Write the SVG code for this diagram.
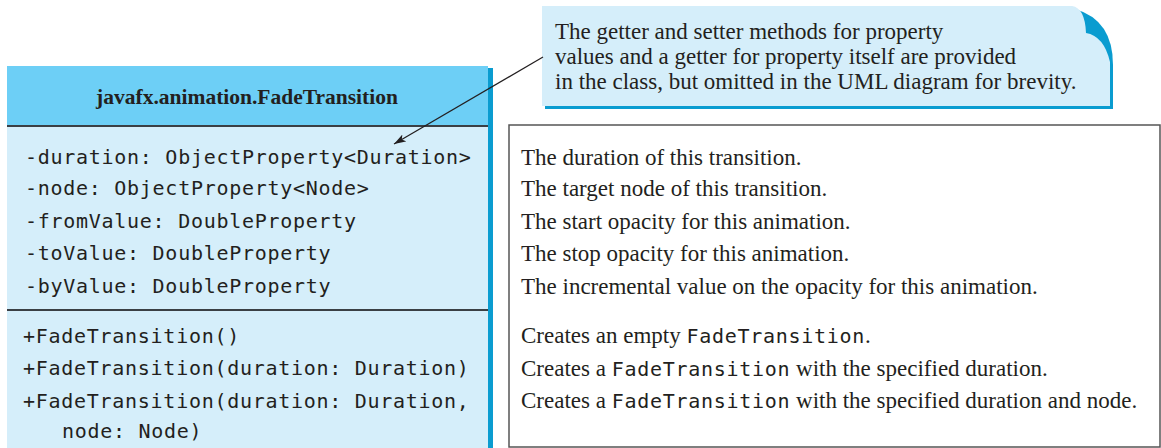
<svg xmlns="http://www.w3.org/2000/svg" width="1161" height="448" viewBox="0 0 1161 448">
<defs>
<style>
.mono{font-family:"DejaVu Sans Mono","Liberation Mono",monospace;font-size:20px;letter-spacing:0.72px;fill:#231f20}
.serif{font-family:"Liberation Serif","Times New Roman",serif;font-size:23px;fill:#231f20}
.sep{stroke:#3a3f44;stroke-width:2}
</style>
<marker id="ah" viewBox="0 0 12 8" refX="12" refY="4" markerWidth="12" markerHeight="8" orient="auto" markerUnits="userSpaceOnUse">
<path d="M0,0 L12,4 L0,8 L3,4 Z" fill="#231f20"/>
</marker>
</defs>
<rect width="1161" height="448" fill="#ffffff"/>
<g id="class-box">
<rect x="488" y="68" width="5" height="380" fill="#0a9cd0"/>
<rect x="7" y="66" width="481" height="60" fill="#6dcff6"/>
<rect x="7" y="126" width="481" height="322" fill="#d5eefa"/>
<line class="sep" x1="7" y1="126" x2="488" y2="126"/>
<line class="sep" x1="7" y1="310" x2="488" y2="310"/>
<text x="247" y="104" text-anchor="middle" style="font-family:'Liberation Serif','Times New Roman',serif;font-size:21.5px;font-weight:bold;fill:#231f20">javafx.animation.FadeTransition</text>
<text class="mono" x="25" y="164">-duration: ObjectProperty&lt;Duration&gt;</text>
<text class="mono" x="25" y="195">-node: ObjectProperty&lt;Node&gt;</text>
<text class="mono" x="25" y="228">-fromValue: DoubleProperty</text>
<text class="mono" x="25" y="260">-toValue: DoubleProperty</text>
<text class="mono" x="25" y="293">-byValue: DoubleProperty</text>
<text class="mono" x="23" y="343">+FadeTransition()</text>
<text class="mono" x="23" y="375">+FadeTransition(duration: Duration)</text>
<text class="mono" x="23" y="408">+FadeTransition(duration: Duration,</text>
<text class="mono" x="62" y="438">node: Node)</text>
</g>
<g id="description-box">
<rect x="509" y="125" width="651" height="322" fill="#ffffff" stroke="#555" stroke-width="1.5"/>
<text class="serif" x="521" y="165">The duration of this transition.</text>
<text class="serif" x="521" y="196">The target node of this transition.</text>
<text class="serif" x="521" y="229">The start opacity for this animation.</text>
<text class="serif" x="521" y="261">The stop opacity for this animation.</text>
<text class="serif" x="521" y="294">The incremental value on the opacity for this animation.</text>
<text class="serif" x="521" y="343">Creates an empty <tspan class="mono">FadeTransition</tspan>.</text>
<text class="serif" x="521" y="376">Creates a <tspan class="mono">FadeTransition</tspan> with the specified duration.</text>
<text class="serif" x="521" y="408">Creates a <tspan class="mono">FadeTransition</tspan> with the specified duration and node.</text>
</g>
<g id="note">
<path d="M545,9 H1075 Q1113,20 1113,65 V109 H545 Z" fill="#0a9cd0"/>
<path d="M542,6 H1072 Q1085,8 1086,33 Q1104,36 1110,62 V106 H542 Z" fill="#d5eefa"/>
<text class="serif" x="555" y="39">The getter and setter methods for property</text>
<text class="serif" x="555" y="64">values and a getter for property itself are provided</text>
<text class="serif" x="555" y="89">in the class, but omitted in the UML diagram for brevity.</text>
</g>
<g id="connectors">
<line x1="543" y1="57" x2="394" y2="144" stroke="#231f20" stroke-width="1.2" marker-end="url(#ah)"/>
</g>
</svg>
